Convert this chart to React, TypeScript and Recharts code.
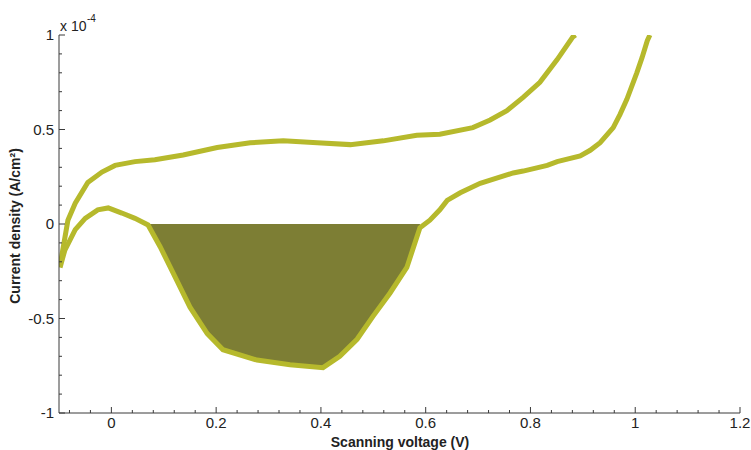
import { ComposedChart, Line, Area, XAxis, YAxis } from 'recharts';

// forward scan (upper branch), units of 1e-4 A/cm2
const upperX = [-0.098, -0.083, -0.069, -0.045, -0.018, 0.007, 0.045, 0.083, 0.137, 0.202, 0.265, 0.328, 0.393, 0.456, 0.519, 0.583, 0.627, 0.69, 0.723, 0.755, 0.786, 0.818, 0.851, 0.881, 0.886];
const upperY = [-0.22, 0.02, 0.11, 0.22, 0.275, 0.31, 0.33, 0.34, 0.365, 0.405, 0.43, 0.44, 0.43, 0.42, 0.44, 0.47, 0.475, 0.51, 0.55, 0.6, 0.67, 0.75, 0.87, 0.99, 1.0];

// reverse scan (lower branch), from top right back to the left edge
const lowerX = [1.028, 1.023, 1.013, 1.003, 0.984, 0.971, 0.958, 0.933, 0.914, 0.895, 0.851, 0.832, 0.786, 0.767, 0.704, 0.666, 0.641, 0.627, 0.608, 0.589, 0.564, 0.532, 0.499, 0.469, 0.436, 0.404, 0.341, 0.278, 0.213, 0.183, 0.15, 0.118, 0.093, 0.07, 0.045, 0.02, -0.006, -0.026, -0.05, -0.069, -0.089, -0.098];
const lowerY = [1.0, 0.97, 0.88, 0.8, 0.66, 0.58, 0.51, 0.43, 0.39, 0.36, 0.33, 0.31, 0.28, 0.27, 0.215, 0.165, 0.125, 0.075, 0.02, -0.02, -0.23, -0.365, -0.49, -0.61, -0.7, -0.76, -0.745, -0.72, -0.665, -0.58, -0.44, -0.26, -0.12, -0.005, 0.03, 0.058, 0.085, 0.075, 0.03, -0.03, -0.14, -0.23];

const xMajor = [0, 0.2, 0.4, 0.6, 0.8, 1, 1.2];
const xLabels = ['0', '0.2', '0.4', '0.6', '0.8', '1', '1.2'];
const yMajor = [-1, -0.5, 0, 0.5, 1];
const yLabels = ['-1', '-0.5', '0', '0.5', '1'];

const LINE = '#b6b92c';
const FILL = '#7d7e34';
const AXIS = '#3a3a3a';
const FONT = '"Liberation Sans", Arial, sans-serif';

const upper = upperX.map((x, i) => ({ x, y: upperY[i] }));
const lower = lowerX.map((x, i) => ({ x, y: lowerY[i] }));
// shaded region: reverse branch below zero between the two crossings
const shaded = lower.filter((p) => p.x > 0.06 && p.x < 0.6).sort((a, b) => a.x - b.x);

const range = (from: number, to: number, step: number) => {
  const out: number[] = [];
  for (let v = from; v <= to + 1e-9; v += step) out.push(Math.round(v * 1000) / 1000);
  return out;
};
const xTicks = range(-0.08, 1.2, 0.04);
const yTicks = range(-1, 1, 0.1);

const majorIndex = (v: number, majors: number[]) => majors.findIndex((m) => Math.abs(m - v) < 1e-6);

const tickText = { fontFamily: FONT, fontSize: 15, fill: '#222' };

function BottomTick({ x, y, payload }: any) {
  const i = majorIndex(payload.value, xMajor);
  return (
    <g>
      <line x1={x} x2={x} y1={y} y2={y - (i >= 0 ? 6 : 3)} stroke={AXIS} />
      {i >= 0 && (
        <text x={x} y={y + 15} textAnchor="middle" {...tickText}>
          {xLabels[i]}
        </text>
      )}
    </g>
  );
}

function TopTick({ x, y, payload }: any) {
  const i = majorIndex(payload.value, xMajor);
  return <line x1={x} x2={x} y1={y} y2={y + (i >= 0 ? 6 : 3)} stroke={AXIS} />;
}

function LeftTick({ x, y, payload }: any) {
  const i = majorIndex(payload.value, yMajor);
  return (
    <g>
      <line x1={x} x2={x + (i >= 0 ? 6 : 3)} y1={y} y2={y} stroke={AXIS} />
      {i >= 0 && (
        <text x={x - 5} y={y + 5} textAnchor="end" {...tickText}>
          {yLabels[i]}
        </text>
      )}
    </g>
  );
}

function RightTick({ x, y, payload }: any) {
  const i = majorIndex(payload.value, yMajor);
  return <line x1={x} x2={x - (i >= 0 ? 6 : 3)} y1={y} y2={y} stroke={AXIS} />;
}

export default function App() {
  return (
    <div style={{ position: 'relative', width: 751, height: 450, background: '#fff' }}>
      <style>{'body{margin:0}'}</style>
      <ComposedChart width={751} height={450} margin={{ top: 35, right: 11, bottom: 0, left: 0 }}>
        <XAxis
          xAxisId="x"
          dataKey="x"
          type="number"
          domain={[-0.1, 1.2]}
          ticks={xTicks}
          interval={0}
          allowDataOverflow
          height={37}
          tickSize={0}
          tickMargin={0}
          tickLine={false}
          axisLine={{ stroke: AXIS }}
          tick={BottomTick}
        />
        <XAxis
          xAxisId="top"
          orientation="top"
          dataKey="x"
          type="number"
          domain={[-0.1, 1.2]}
          ticks={xTicks}
          interval={0}
          allowDataOverflow
          height={0}
          tickSize={0}
          tickMargin={0}
          tickLine={false}
          axisLine={{ stroke: AXIS }}
          tick={TopTick}
        />
        <YAxis
          yAxisId="y"
          type="number"
          domain={[-1, 1]}
          ticks={yTicks}
          interval={0}
          allowDataOverflow
          width={59}
          tickSize={0}
          tickMargin={0}
          tickLine={false}
          axisLine={{ stroke: AXIS }}
          tick={LeftTick}
        />
        <YAxis
          yAxisId="right"
          orientation="right"
          type="number"
          domain={[-1, 1]}
          ticks={yTicks}
          interval={0}
          allowDataOverflow
          width={0}
          tickSize={0}
          tickMargin={0}
          tickLine={false}
          axisLine={{ stroke: AXIS }}
          tick={RightTick}
        />
        <Line
          xAxisId="x"
          yAxisId="y"
          data={upper}
          dataKey="y"
          type="linear"
          stroke={LINE}
          strokeWidth={5}
          dot={false}
          isAnimationActive={false}
        />
        <Line
          xAxisId="x"
          yAxisId="y"
          data={lower}
          dataKey="y"
          type="linear"
          stroke={LINE}
          strokeWidth={5}
          dot={false}
          isAnimationActive={false}
        />
        <Area
          xAxisId="x"
          yAxisId="y"
          data={shaded}
          dataKey="y"
          type="linear"
          baseValue={0}
          stroke="none"
          fill={FILL}
          fillOpacity={1}
          isAnimationActive={false}
        />
      </ComposedChart>
      <svg
        width={751}
        height={450}
        style={{ position: 'absolute', left: 0, top: 0, pointerEvents: 'none' }}
      >
        <text x={60} y={31} fontFamily={FONT} fontSize={14} fill="#222">
          x 10
        </text>
        <text x={87} y={22} fontFamily={FONT} fontSize={10} fill="#222">
          -4
        </text>
        <text x={400} y={447} textAnchor="middle" fontFamily={FONT} fontSize={14} fontWeight="bold" fill="#222">
          Scanning voltage (V)
        </text>
        <text
          x={20}
          y={226}
          textAnchor="middle"
          transform="rotate(-90 20 226)"
          fontFamily={FONT}
          fontSize={14}
          fontWeight="bold"
          fill="#222"
        >
          Current density (A/cm²)
        </text>
      </svg>
    </div>
  );
}
